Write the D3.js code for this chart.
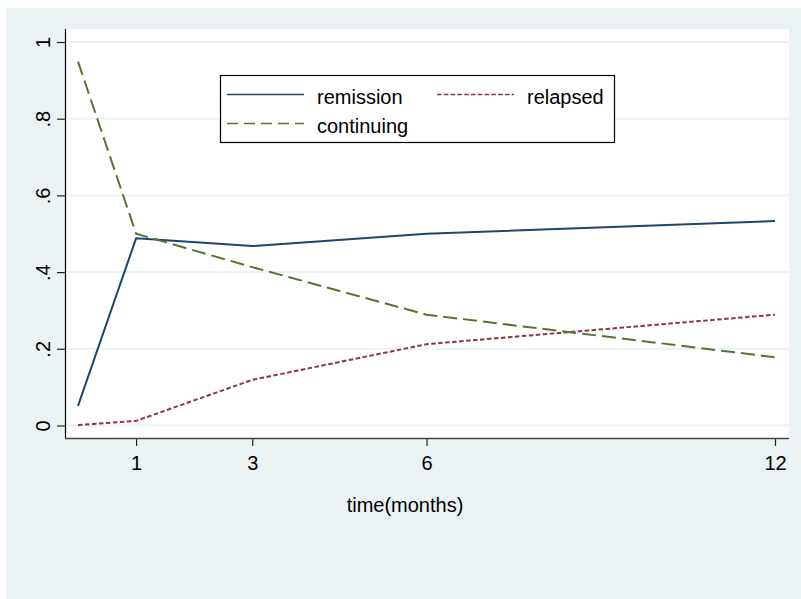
<!DOCTYPE html>
<html>
<head>
<meta charset="utf-8">
<script src="https://cdn.jsdelivr.net/npm/d3@7"></script>
<style>
  html, body { margin: 0; padding: 0; background: #ffffff; }
  svg { display: block; }
  text { font-family: "Liberation Sans", Arial, sans-serif; fill: #000; }
</style>
</head>
<body>
<svg id="chart" width="801" height="599"></svg>
<script>
// ---- data ----
const times = [0, 1, 3, 6, 12];
const remission  = [0.051, 0.488, 0.468, 0.500, 0.533];
const relapsed   = [0.001, 0.012, 0.119, 0.212, 0.289];
const continuing = [0.949, 0.500, 0.413, 0.289, 0.178];
const xTicks = [1, 3, 6, 12];
const yTicks = [0, 0.2, 0.4, 0.6, 0.8, 1];
const yTickLabels = ["0", ".2", ".4", ".6", ".8", "1"];
const seriesNames = ["remission", "relapsed", "continuing"];
const xTitle = "time(months)";

const svg = d3.select("#chart");
const W = 801, H = 599;

// outer panel
svg.append("rect").attr("x", 6).attr("y", 8).attr("width", W - 6).attr("height", H - 8)
  .attr("fill", "#EAF2F3");

// plot region
const plot = { left: 65, right: 789, top: 29, bottom: 438 };
svg.append("rect").attr("x", plot.left).attr("y", plot.top)
  .attr("width", plot.right - plot.left).attr("height", plot.bottom - plot.top)
  .attr("fill", "#ffffff");

const x = d3.scaleLinear().domain([0, 12]).range([78, 775]);
const y = d3.scaleLinear().domain([0, 1]).range([425.5, 42]);

// grid lines
svg.append("g").selectAll("line").data(yTicks).join("line")
  .attr("x1", plot.left).attr("x2", plot.right)
  .attr("y1", d => y(d)).attr("y2", d => y(d))
  .attr("stroke", "#EAF2F3").attr("stroke-width", 2);

// y axis
const yAxis = svg.append("g").attr("transform", `translate(${plot.left},0)`)
  .call(d3.axisLeft(y).tickValues(yTicks).tickSize(8).tickSizeOuter(0)
    .tickFormat((d, i) => yTickLabels[i]));
yAxis.select(".domain").remove();
yAxis.selectAll(".tick line").attr("stroke", "#222").attr("stroke-width", 1.2);
yAxis.selectAll(".tick text")
  .attr("x", null).attr("dy", null)
  .attr("transform", "translate(-15,0) rotate(-90)")
  .attr("text-anchor", "middle")
  .style("font-size", "20px")
  .style("font-family", "'Liberation Sans', Arial, sans-serif");

// x axis
const xAxis = svg.append("g").attr("transform", `translate(0,${plot.bottom})`)
  .call(d3.axisBottom(x).tickValues(xTicks).tickSize(8).tickSizeOuter(0));
xAxis.select(".domain").remove();
xAxis.selectAll(".tick line").attr("stroke", "#222").attr("stroke-width", 1.2);
xAxis.selectAll(".tick text")
  .attr("y", 32).attr("dy", null)
  .style("font-size", "20px")
  .style("font-family", "'Liberation Sans', Arial, sans-serif");

// axis lines
svg.append("line").attr("x1", plot.left + 0.5).attr("x2", plot.left + 0.5)
  .attr("y1", plot.top).attr("y2", plot.bottom + 0.5)
  .attr("stroke", "#000").attr("stroke-width", 1.2);
svg.append("line").attr("x1", plot.left).attr("x2", plot.right)
  .attr("y1", plot.bottom + 0.5).attr("y2", plot.bottom + 0.5)
  .attr("stroke", "#444").attr("stroke-width", 1.4);

// x title
svg.append("text").attr("x", 405).attr("y", 512).attr("text-anchor", "middle")
  .style("font-size", "20px").text(xTitle);

// series
const series = [
  { name: seriesNames[0], values: remission,  color: "#1A476F", dash: null },
  { name: seriesNames[1], values: relapsed,   color: "#90353B", dash: "4.5,2.5" },
  { name: seriesNames[2], values: continuing, color: "#55752F", dash: "14,6" }
];
const line = d3.line().x((d, i) => x(times[i])).y(d => y(d));
svg.append("g").selectAll("path").data(series).join("path")
  .attr("d", d => line(d.values))
  .attr("fill", "none")
  .attr("stroke", d => d.color)
  .attr("stroke-width", 2)
  .attr("stroke-dasharray", d => d.dash)
  .attr("stroke-linejoin", "round");

// legend
const lg = svg.append("g");
lg.append("rect").attr("x", 220.5).attr("y", 75.5).attr("width", 394).attr("height", 67)
  .attr("fill", "#fff").attr("stroke", "#000").attr("stroke-width", 1.2);
const legendItems = [
  { s: series[0], lx: 227, ly: 94.5, tx: 317, ty: 104, dash: null },
  { s: series[1], lx: 437, ly: 94.5, tx: 527, ty: 104, dash: "4.5,2.3" },
  { s: series[2], lx: 227, ly: 123.5, tx: 317, ty: 133, dash: "11,6" }
];
legendItems.forEach(it => {
  lg.append("line").attr("x1", it.lx).attr("x2", it.lx + 77)
    .attr("y1", it.ly).attr("y2", it.ly)
    .attr("stroke", it.s.color).attr("stroke-width", 1.6)
    .attr("stroke-dasharray", it.dash);
  lg.append("text").attr("x", it.tx).attr("y", it.ty)
    .style("font-size", "20px").text(it.s.name);
});
</script>
</body>
</html>
